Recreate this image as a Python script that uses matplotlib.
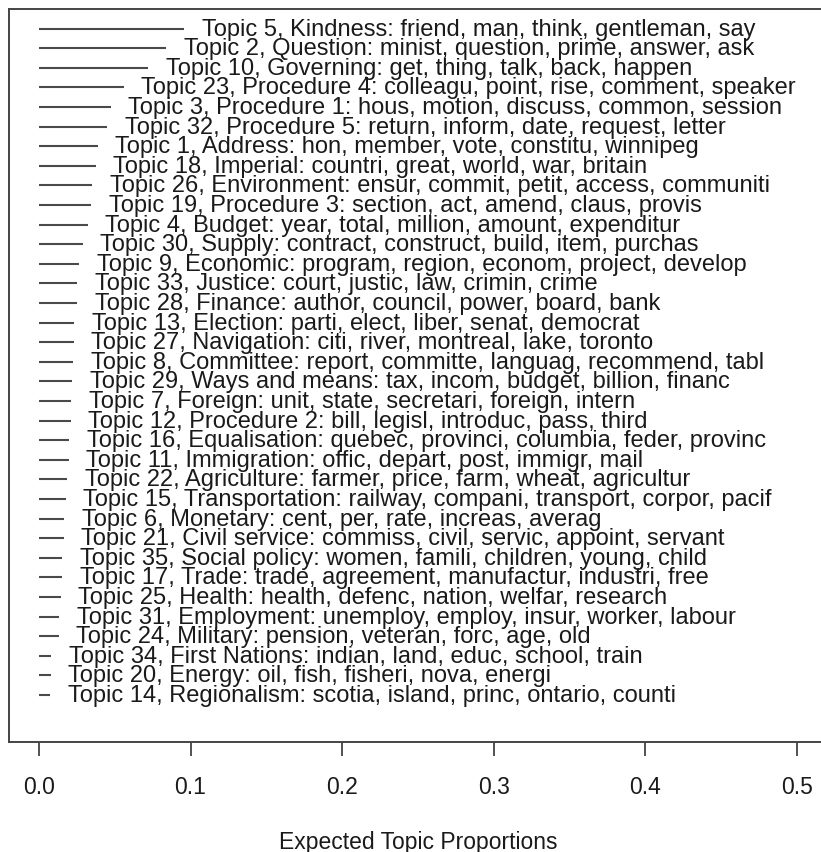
import matplotlib
matplotlib.use("Agg")
import matplotlib.pyplot as plt

plt.rcParams['font.family'] = ['Liberation Sans', 'DejaVu Sans']

# topic labels, ordered from most to least prevalent
topic_labels = [
    "Topic 5, Kindness: friend, man, think, gentleman, say",
    "Topic 2, Question: minist, question, prime, answer, ask",
    "Topic 10, Governing: get, thing, talk, back, happen",
    "Topic 23, Procedure 4: colleagu, point, rise, comment, speaker",
    "Topic 3, Procedure 1: hous, motion, discuss, common, session",
    "Topic 32, Procedure 5: return, inform, date, request, letter",
    "Topic 1, Address: hon, member, vote, constitu, winnipeg",
    "Topic 18, Imperial: countri, great, world, war, britain",
    "Topic 26, Environment: ensur, commit, petit, access, communiti",
    "Topic 19, Procedure 3: section, act, amend, claus, provis",
    "Topic 4, Budget: year, total, million, amount, expenditur",
    "Topic 30, Supply: contract, construct, build, item, purchas",
    "Topic 9, Economic: program, region, econom, project, develop",
    "Topic 33, Justice: court, justic, law, crimin, crime",
    "Topic 28, Finance: author, council, power, board, bank",
    "Topic 13, Election: parti, elect, liber, senat, democrat",
    "Topic 27, Navigation: citi, river, montreal, lake, toronto",
    "Topic 8, Committee: report, committe, languag, recommend, tabl",
    "Topic 29, Ways and means: tax, incom, budget, billion, financ",
    "Topic 7, Foreign: unit, state, secretari, foreign, intern",
    "Topic 12, Procedure 2: bill, legisl, introduc, pass, third",
    "Topic 16, Equalisation: quebec, provinci, columbia, feder, provinc",
    "Topic 11, Immigration: offic, depart, post, immigr, mail",
    "Topic 22, Agriculture: farmer, price, farm, wheat, agricultur",
    "Topic 15, Transportation: railway, compani, transport, corpor, pacif",
    "Topic 6, Monetary: cent, per, rate, increas, averag",
    "Topic 21, Civil service: commiss, civil, servic, appoint, servant",
    "Topic 35, Social policy: women, famili, children, young, child",
    "Topic 17, Trade: trade, agreement, manufactur, industri, free",
    "Topic 25, Health: health, defenc, nation, welfar, research",
    "Topic 31, Employment: unemploy, employ, insur, worker, labour",
    "Topic 24, Military: pension, veteran, forc, age, old",
    "Topic 34, First Nations: indian, land, educ, school, train",
    "Topic 20, Energy: oil, fish, fisheri, nova, energi",
    "Topic 14, Regionalism: scotia, island, princ, ontario, counti",
]

expected_props = [
    0.0960, 0.0836, 0.0717, 0.0558, 0.0472, 0.0446, 0.0386, 0.0373,
    0.0347, 0.0342, 0.0320, 0.0287, 0.0267, 0.0254, 0.0248, 0.0234,
    0.0228, 0.0226, 0.0215, 0.0212, 0.0208, 0.0201, 0.0195, 0.0188,
    0.0175, 0.0168, 0.0162, 0.0155, 0.0149, 0.0142, 0.0135, 0.0129,
    0.0078, 0.0076, 0.0074,
]

x_ticks = [0.0, 0.1, 0.2, 0.3, 0.4, 0.5]

fig = plt.figure(figsize=(8.21, 8.53), dpi=100)
ax = fig.add_axes([0.0106, 0.129, 0.9967, 0.8593])

n = len(topic_labels)
for i, (lab, freq) in enumerate(zip(topic_labels, expected_props)):
    y = n - i
    ax.plot([0, freq], [y, y], color="#4a4a4a", lw=1.5, solid_capstyle="butt")
    ax.annotate(lab, (freq + 0.01, y), xytext=(2, 0), textcoords="offset points",
                ha="left", va="center", fontsize=17, color="#1a1a1a")

ax.set_xlim(-0.02, 0.52)
ax.set_ylim(-1.4, 36.0)
ax.set_yticks([])
ax.set_xticks(x_ticks)
ax.set_xticklabels([f"{t:.1f}" for t in x_ticks])
ax.tick_params(axis="x", length=10, width=1.2, color="#333333", pad=14,
               labelsize=16.5, labelcolor="#1a1a1a")
for sp in ax.spines.values():
    sp.set_color("#444444")
    sp.set_linewidth(1.4)

ax.set_xlabel("Expected Topic Proportions", fontsize=16.5, color="#1a1a1a", labelpad=23)

fig.savefig("out.png", dpi=100)
